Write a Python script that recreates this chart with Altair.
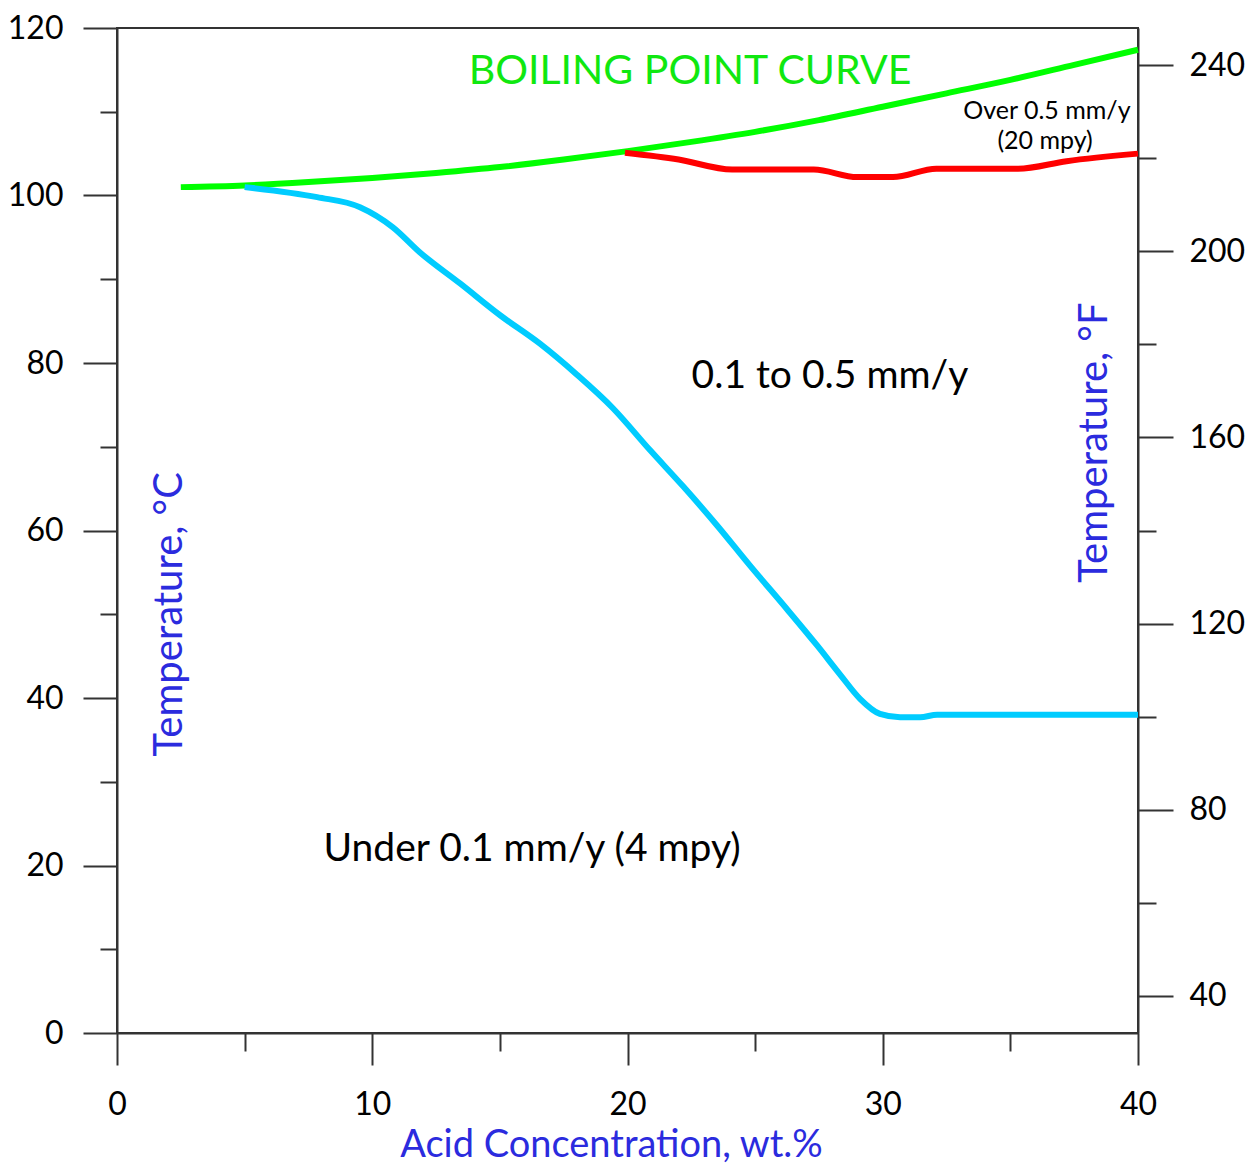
import altair as alt
import pandas as pd

# ---- data ----
boil_wt = [2.5, 5, 7.5, 10, 12.5, 15, 17.5, 20, 22.5, 25, 27.5, 30, 32.5, 35, 37.5, 40]
boil_c = [101.0, 101.2, 101.6, 102.1, 102.7, 103.4, 104.3, 105.3, 106.4, 107.6, 109.0, 110.6, 112.2, 113.8, 115.6, 117.4]

red_wt = [19.9, 22.0, 24.1, 27.3, 29.0, 30.4, 32.1, 35.3, 37.2, 40.0]
red_c = [105.1, 104.3, 103.1, 103.1, 102.2, 102.2, 103.2, 103.2, 104.1, 105.0]

blue_wt = [5.0, 7.84, 9.52, 10.81, 11.87, 13.44, 15.01, 16.57, 18.02, 19.43, 20.88,
           22.17, 23.51, 24.80, 26.25, 27.42, 28.33, 29.11, 29.89, 30.68, 31.46, 32.13, 40.0]
blue_c = [101.0, 99.8, 98.6, 96.2, 93.2, 89.5, 85.7, 82.3, 78.6, 74.6, 69.6,
          65.3, 60.6, 55.8, 50.6, 46.3, 42.8, 39.9, 38.1, 37.7, 37.7, 38.0, 38.0]

x_ticks = [0, 5, 10, 15, 20, 25, 30, 35, 40]
c_ticks = [0, 10, 20, 30, 40, 50, 60, 70, 80, 90, 100, 110, 120]
f_ticks = [40, 60, 80, 100, 120, 140, 160, 180, 200, 220, 240]

ann_text = ["BOILING POINT CURVE", "0.1 to 0.5 mm/y", "Under 0.1 mm/y (4 mpy)",
            "Over 0.5 mm/y", "(20 mpy)"]
ann_wt = [22.45, 27.93, 16.26, 36.43, 36.36]
ann_c = [114.8, 78.4, 22.0, 110.1, 106.5]
ann_kind = ["green", "big", "big", "small", "small"]

ytitle_text = ["Temperature, °C", "Temperature, °F"]
ytitle_wt = [2.08, 38.3]
ytitle_c = [50.0, 70.5]

FONT = "Lato"
BLUE_TXT = "#2b2bde"

rows = []
for w, c in zip(boil_wt, boil_c):
    rows.append({"series": "boil", "wt": w, "temp": c})
for w, c in zip(red_wt, red_c):
    rows.append({"series": "red", "wt": w, "temp": c})
for w, c in zip(blue_wt, blue_c):
    rows.append({"series": "blue", "wt": w, "temp": c})
df = pd.DataFrame(rows)

ann = pd.DataFrame({"text": ann_text, "wt": ann_wt, "temp": ann_c, "kind": ann_kind})
yt = pd.DataFrame({"text": ytitle_text, "wt": ytitle_wt, "temp": ytitle_c})

x_enc = alt.X(
    "wt:Q",
    scale=alt.Scale(domain=[0, 40], nice=False, zero=False),
    axis=alt.Axis(
        values=x_ticks,
        tickSize={"condition": {"test": "datum.value % 10 === 0", "value": 32}, "value": 18},
        labelExpr="datum.value % 10 === 0 ? datum.label : ''",
        labelPadding=24,
        title="Acid Concentration, wt.%",
        titleColor=BLUE_TXT,
        titleFont=FONT,
        titleFontSize=38,
        titleFontWeight="normal",
        titlePadding=6,
        titleX=494,
        titleAlign="center",
        labelOverlap=False,
        labelFlush=False,
    ),
)

c_scale = alt.Scale(domain=[0, 120], nice=False, zero=False)
y_left = alt.Y(
    "temp:Q",
    scale=c_scale,
    axis=alt.Axis(
        orient="left",
        values=c_ticks,
        tickSize={"condition": {"test": "datum.value % 20 === 0", "value": 34}, "value": 17},
        labelExpr="datum.value % 20 === 0 ? datum.label : ''",
        labelPadding=20,
        title=None,
        labelOverlap=False,
        labelFlush=False,
    ),
)

lines = alt.Chart(df).mark_line(strokeWidth=6, interpolate="monotone").encode(
    x=x_enc,
    y=y_left,
    color=alt.Color(
        "series:N",
        scale=alt.Scale(domain=["boil", "red", "blue"], range=["#00ff00", "#ff0000", "#00ccff"]),
        legend=None,
    ),
)

y_plain = alt.Y("temp:Q", scale=c_scale)
x_plain = alt.X("wt:Q")

green_txt = alt.Chart(ann).transform_filter("datum.kind === 'green'").mark_text(
    font=FONT, fontSize=41, color="#10e810", align="center", baseline="middle"
).encode(x=x_plain, y=y_plain, text="text:N")

big_txt = alt.Chart(ann).transform_filter("datum.kind === 'big'").mark_text(
    font=FONT, fontSize=39, color="black", align="center", baseline="middle"
).encode(x=x_plain, y=y_plain, text="text:N")

small_txt = alt.Chart(ann).transform_filter("datum.kind === 'small'").mark_text(
    font=FONT, fontSize=25, color="black", align="center", baseline="middle"
).encode(x=x_plain, y=y_plain, text="text:N")

ytitles = alt.Chart(yt).mark_text(
    font=FONT, fontSize=40, color=BLUE_TXT, align="center", baseline="middle", angle=270
).encode(x=x_plain, y=y_plain, text="text:N")

left_layer = alt.layer(lines, green_txt, big_txt, small_txt, ytitles)

right_layer = alt.Chart(df).transform_filter("datum.series === 'boil'").transform_calculate(
    F="datum.temp * 1.8 + 32"
).mark_line(opacity=0).encode(
    x=x_plain,
    y=alt.Y(
        "F:Q",
        scale=alt.Scale(domain=[32, 248], nice=False, zero=False),
        axis=alt.Axis(
            orient="right",
            values=f_ticks,
            tickSize={"condition": {"test": "datum.value % 40 === 0", "value": 35}, "value": 18},
            labelExpr="datum.value % 40 === 0 ? datum.label : ''",
            labelPadding=16,
            title=None,
            labelOverlap=False,
            labelFlush=False,
        ),
    ),
)

chart = alt.layer(left_layer, right_layer).resolve_scale(y="independent").properties(
    width=1021,
    height=1005,
    autosize=alt.AutoSizeParams(type="none"),
    padding={"left": 109, "top": 20, "right": 110, "bottom": 138},
).configure_view(
    stroke="#333333", strokeWidth=2
).configure_axis(
    grid=False,
    domainColor="#333333",
    domainWidth=2,
    tickColor="#333333",
    tickWidth=2,
    labelFont=FONT,
    labelFontSize=32,
    labelColor="black",
)

chart.save("out.html", embed_options={"renderer": "svg", "actions": False})
